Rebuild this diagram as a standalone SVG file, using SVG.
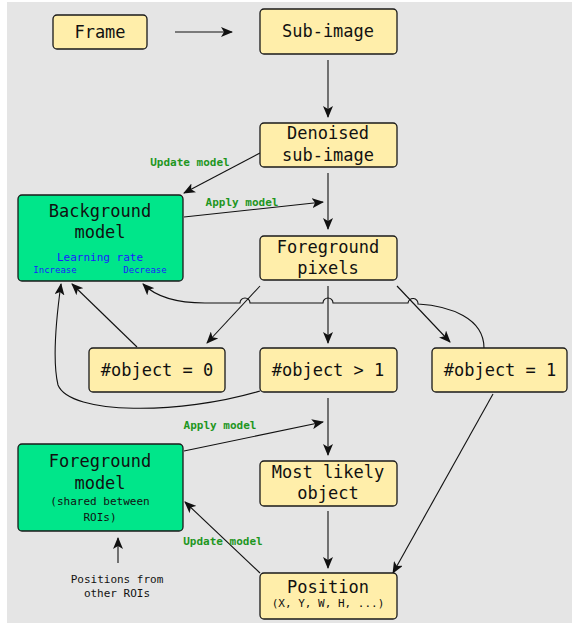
<svg xmlns="http://www.w3.org/2000/svg" width="573" height="626" viewBox="0 0 573 626">
<defs>
<marker id="ah" markerWidth="12" markerHeight="10" refX="11" refY="5" orient="auto" markerUnits="userSpaceOnUse">
<path d="M0,0 L12,5 L0,10 L3,5 Z" fill="#111"/>
</marker>
<style>
.box{fill:#ffeeaa;stroke:#1a1a1a;stroke-width:1.3}
.gbox{fill:#00e68a;stroke:#1a1a1a;stroke-width:1.3}
.t{font-family:"DejaVu Sans Mono","Liberation Mono",monospace;font-size:17px;fill:#111;text-anchor:middle}
.s{font-family:"DejaVu Sans Mono","Liberation Mono",monospace;font-size:11px;fill:#111;text-anchor:middle}
.g{font-family:"DejaVu Sans Mono","Liberation Mono",monospace;font-size:11px;font-weight:bold;fill:#1e961e;text-anchor:middle}
.b{font-family:"DejaVu Sans Mono","Liberation Mono",monospace;fill:#1a1aff;text-anchor:middle}
.c{fill:none;stroke:#111;stroke-width:1.1}
</style>
</defs>
<rect x="7" y="2" width="565" height="621" fill="#e5e5e5"/>
<g id="connectors">
<path class="c" d="M175,32 L232,32" marker-end="url(#ah)"/>
<path class="c" d="M328,60 L328,117" marker-end="url(#ah)"/>
<path class="c" d="M328,173 L328,229" marker-end="url(#ah)"/>
<path class="c" d="M260,153 L184,193" marker-end="url(#ah)"/>
<path class="c" d="M184,217 L323,202" marker-end="url(#ah)"/>
<path class="c" d="M260,286 L207,343" marker-end="url(#ah)"/>
<path class="c" d="M328,286 L328,343" marker-end="url(#ah)"/>
<path class="c" d="M397,286 L450,342" marker-end="url(#ah)"/>
<path class="c" d="M484,348 C484,318 450,306 418,304 A5,5 0 0 0 408,303 L333,303 A5,5 0 0 0 323,303 L250,303 A5,5 0 0 0 240,303 L205,303 C178,303 156,297 143,284" marker-end="url(#ah)"/>
<path class="c" d="M137,347 L72,284" marker-end="url(#ah)"/>
<path class="c" d="M260,391 C180,415 70,415 58,385 C52,360 56,320 61,284" marker-end="url(#ah)"/>
<path class="c" d="M184,451 L323,422" marker-end="url(#ah)"/>
<path class="c" d="M328,398 L328,455" marker-end="url(#ah)"/>
<path class="c" d="M328,511 L328,568" marker-end="url(#ah)"/>
<path class="c" d="M493,394 L393,573" marker-end="url(#ah)"/>
<path class="c" d="M260,573 L185,502" marker-end="url(#ah)"/>
<path class="c" d="M118,563 L118,538" marker-end="url(#ah)"/>
<text class="g" x="190" y="166">Update model</text>
<text class="g" x="242" y="206">Apply model</text>
<text class="g" x="220" y="429">Apply model</text>
<text class="g" x="223" y="545">Update model</text>
</g>
<g id="frame"><rect class="box" x="53" y="15" width="94" height="34" rx="4"/><text class="t" x="100" y="38">Frame</text></g>
<g id="subimage"><rect class="box" x="260" y="9" width="137" height="45" rx="4"/><text class="t" x="328" y="37">Sub-image</text></g>
<g id="denoised"><rect class="box" x="260" y="123" width="137" height="44" rx="4"/><text class="t" x="328" y="139">Denoised</text><text class="t" x="328" y="161">sub-image</text></g>
<g id="fgpixels"><rect class="box" x="260" y="236" width="137" height="44" rx="4"/><text class="t" x="328" y="253">Foreground</text><text class="t" x="328" y="274">pixels</text></g>
<g id="bgmodel"><rect class="gbox" x="18" y="195" width="165" height="86" rx="4"/><text class="t" x="100" y="217">Background</text><text class="t" x="100" y="238">model</text><text class="b" x="100" y="261" font-size="11">Learning rate</text><text class="b" x="55" y="273" font-size="9">Increase</text><text class="b" x="145" y="273" font-size="9">Decrease</text></g>
<g id="obj0"><rect class="box" x="89" y="348" width="136" height="44" rx="4"/><text class="t" x="157" y="376">#object = 0</text></g>
<g id="objgt1"><rect class="box" x="260" y="348" width="137" height="44" rx="4"/><text class="t" x="328" y="376">#object &gt; 1</text></g>
<g id="obj1"><rect class="box" x="432" y="348" width="135" height="44" rx="4"/><text class="t" x="500" y="376">#object = 1</text></g>
<g id="mostlikely"><rect class="box" x="260" y="461" width="137" height="45" rx="4"/><text class="t" x="328" y="478">Most likely</text><text class="t" x="328" y="499">object</text></g>
<g id="position"><rect class="box" x="260" y="573" width="137" height="46" rx="4"/><text class="t" x="328" y="593">Position</text><text class="s" x="328" y="607">(X, Y, W, H, ...)</text></g>
<g id="fgmodel"><rect class="gbox" x="18" y="444" width="165" height="87" rx="4"/><text class="t" x="100" y="467">Foreground</text><text class="t" x="100" y="489">model</text><text class="s" x="100" y="505">(shared between</text><text class="s" x="100" y="521">ROIs)</text></g>
<g id="positions-other"><text class="s" x="117" y="583">Positions from</text><text class="s" x="117" y="597">other ROIs</text></g>
</svg>
